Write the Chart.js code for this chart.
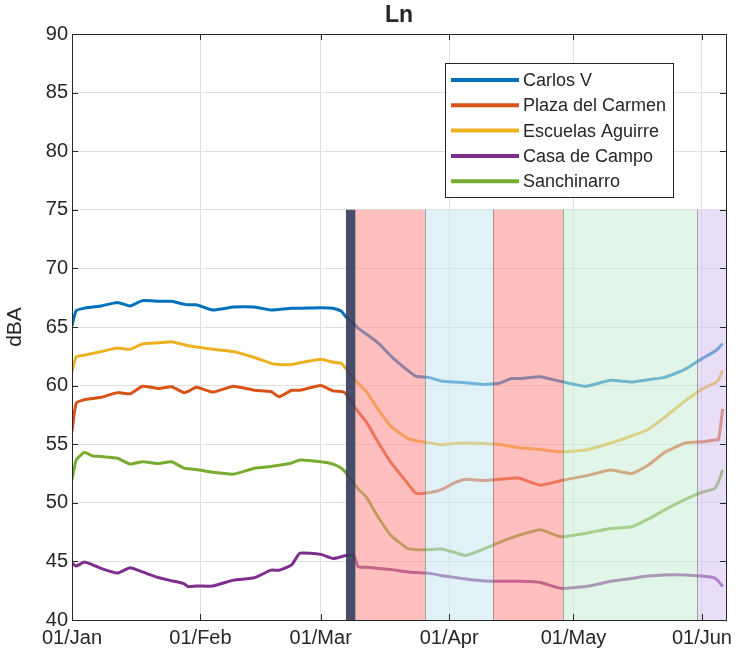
<!DOCTYPE html>
<html>
<head>
<meta charset="utf-8">
<script src="https://cdn.jsdelivr.net/npm/chart.js@4/dist/chart.umd.min.js"></script>
<style>
  html, body { margin: 0; padding: 0; background: #ffffff; }
  #wrap { width: 744px; height: 663px; }
</style>
</head>
<body>
<div id="wrap"><canvas id="c" width="744" height="663"></canvas></div>
<script>
// Days counted from 1 January 2020
const days = [0,1,3,5,7,11,14,17,21,24,27,28,30,34,39,44,48,50,53,55,60,63,65,66,68,69,71,74,77,81,83,86,89,92,95,99,103,106,108,113,118,124,130,135,139,143,148,152,155,156,157];

const carlosV = [65.1,66.4,66.6,66.7,66.8,67.1,66.8,67.25,67.2,67.2,
  66.95,66.9,66.9,66.45,66.7,66.7,66.45,66.5,66.6,66.6,
  66.65,66.6,66.35,65.9,65.3,64.9,64.4,63.6,62.5,61.3,
  60.8,60.7,60.4,60.3,60.25,60.1,60.2,60.6,60.6,60.75,
  60.35,59.95,60.45,60.3,60.5,60.7,61.4,62.3,62.9,63.2,63.6];

const plazaCarmen = [56.1,58.5,58.8,58.9,59.0,59.4,59.3,59.95,59.75,59.9,
  59.4,59.5,59.85,59.45,59.95,59.6,59.5,59.05,59.6,59.6,
  60.0,59.55,59.5,59.35,58.3,57.8,56.9,55.1,53.4,51.65,
  50.8,50.85,51.1,51.65,52.0,51.9,52.0,52.1,52.1,51.5,
  51.9,52.3,52.8,52.5,53.2,54.3,55.1,55.2,55.35,55.4,58.0];

const escuelasAguirre = [61.2,62.45,62.6,62.75,62.9,63.2,63.1,63.55,63.65,63.75,
  63.5,63.4,63.3,63.1,62.9,62.4,61.9,61.8,61.8,61.95,
  62.25,62.0,61.9,61.5,60.6,60.2,59.5,57.9,56.5,55.5,
  55.3,55.15,54.95,55.05,55.1,55.05,55.0,54.8,54.7,54.55,
  54.35,54.5,55.1,55.7,56.25,57.3,58.7,59.7,60.2,60.5,61.3];

const casaCampo = [44.85,44.6,44.95,44.7,44.4,44.0,44.45,44.1,43.6,43.35,
  43.1,42.85,42.9,42.9,43.4,43.6,44.25,44.25,44.7,45.7,
  45.6,45.25,45.4,45.5,45.5,44.55,44.5,44.4,44.3,44.1,
  44.05,44.0,43.8,43.65,43.5,43.35,43.3,43.3,43.3,43.2,
  42.7,42.85,43.3,43.55,43.75,43.85,43.85,43.75,43.6,43.3,42.85];

const sanchinarro = [51.95,53.65,54.3,54.0,53.95,53.8,53.3,53.5,53.35,53.5,
  52.95,52.9,52.85,52.6,52.45,52.95,53.1,53.2,53.4,53.65,
  53.5,53.3,52.95,52.6,51.65,51.2,50.5,48.7,47.2,46.1,
  46.0,46.0,46.05,45.8,45.5,46.0,46.6,47.0,47.25,47.7,
  47.1,47.4,47.8,47.95,48.6,49.4,50.3,50.9,51.2,51.8,52.8];

const seriesNames = ['Carlos V', 'Plaza del Carmen', 'Escuelas Aguirre', 'Casa de Campo', 'Sanchinarro'];

// Month ticks on the date axis
const tickDays = [0, 31, 60, 91, 121, 152];
const tickLabels = ['01/Jan', '01/Feb', '01/Mar', '01/Apr', '01/May', '01/Jun'];
const lastDay = 157.8;

// Restriction periods (day ranges) shaded up to 75 dBA
const periodStart = [66.1, 68.3, 85.2, 101.6, 118.5, 150.8];
const periodEnd   = [68.3, 85.2, 101.6, 118.5, 150.8, lastDay];
const shadeTop = 75;

const lineColors = ['#0072BD', '#D95319', '#EDB120', '#7E2F8E', '#77AC30'];
const periodColors = [
  'rgba(58,62,92,0.92)',
  'rgba(255,140,140,0.56)',
  'rgba(202,230,242,0.56)',
  'rgba(255,140,140,0.56)',
  'rgba(204,238,216,0.56)',
  'rgba(214,198,240,0.56)'
];
const ink = '#262626';
const fontFamily = '"Liberation Sans", Arial, Helvetica, sans-serif';

const valueSets = [carlosV, plazaCarmen, escuelasAguirre, casaCampo, sanchinarro];

const datasets = valueSets.map((vals, i) => ({
  label: seriesNames[i],
  data: days.map((d, k) => ({ x: d, y: vals[k] })),
  borderColor: lineColors[i],
  backgroundColor: lineColors[i],
  borderWidth: 3,
  pointRadius: 0,
  tension: 0.15,
  fill: false
}));

const overlay = {
  id: 'overlay',
  afterDatasetsDraw(chart) {
    const { ctx, chartArea: a, scales: { x, y } } = chart;
    ctx.save();
    const yt = y.getPixelForValue(shadeTop);
    const yb = y.getPixelForValue(40);
    for (let i = 0; i < periodStart.length; i++) {
      const x0 = x.getPixelForValue(periodStart[i]);
      const x1 = x.getPixelForValue(periodEnd[i]);
      ctx.fillStyle = periodColors[i];
      ctx.fillRect(x0, yt, x1 - x0, yb - yt);
      if (i > 0) {
        ctx.strokeStyle = 'rgba(110,110,110,0.45)';
        ctx.lineWidth = 1;
        ctx.beginPath();
        ctx.moveTo(Math.round(x0) + 0.5, yt);
        ctx.lineTo(Math.round(x0) + 0.5, yb);
        ctx.moveTo(Math.round(x1) + 0.5, yt);
        ctx.lineTo(Math.round(x1) + 0.5, yb);
        ctx.stroke();
      }
    }

    // axes box
    ctx.strokeStyle = ink;
    ctx.lineWidth = 1;
    ctx.strokeRect(Math.round(a.left) + 0.5, Math.round(a.top) + 0.5,
                   Math.round(a.right - a.left), Math.round(a.bottom - a.top));

    // inward tick marks
    ctx.beginPath();
    x.ticks.forEach(t => {
      const px = Math.round(x.getPixelForValue(t.value)) + 0.5;
      ctx.moveTo(px, a.bottom); ctx.lineTo(px, a.bottom - 6);
      ctx.moveTo(px, a.top); ctx.lineTo(px, a.top + 6);
    });
    y.ticks.forEach(t => {
      const py = Math.round(y.getPixelForValue(t.value)) + 0.5;
      ctx.moveTo(a.left, py); ctx.lineTo(a.left + 6, py);
      ctx.moveTo(a.right, py); ctx.lineTo(a.right - 6, py);
    });
    ctx.stroke();

    // title
    ctx.fillStyle = ink;
    ctx.font = 'bold 23px ' + fontFamily;
    ctx.textAlign = 'center';
    ctx.textBaseline = 'middle';
    ctx.fillText('Ln', (a.left + a.right) / 2, 16);

    // legend
    const lx = 445, ly = 63, lw = 228, lh = 134;
    ctx.fillStyle = '#ffffff';
    ctx.fillRect(lx, ly, lw, lh);
    ctx.strokeStyle = ink;
    ctx.strokeRect(lx + 0.5, ly + 0.5, lw, lh);
    ctx.font = '18px ' + fontFamily;
    ctx.textAlign = 'left';
    chart.data.datasets.forEach((ds, i) => {
      const ry = ly + 17 + i * 25.3;
      ctx.strokeStyle = ds.borderColor;
      ctx.lineWidth = 4;
      ctx.beginPath();
      ctx.moveTo(lx + 6, ry);
      ctx.lineTo(lx + 74, ry);
      ctx.stroke();
      ctx.fillStyle = ink;
      ctx.fillText(ds.label, lx + 78, ry + 1);
    });
    ctx.restore();
  }
};

Chart.defaults.font.family = fontFamily;
Chart.defaults.color = ink;

new Chart(document.getElementById('c'), {
  type: 'line',
  data: { datasets },
  options: {
    responsive: false,
    animation: false,
    devicePixelRatio: 1,
    layout: { padding: { left: 0, right: 18, top: 34, bottom: 0 } },
    plugins: {
      legend: { display: false },
      title: { display: false },
      tooltip: { enabled: false }
    },
    scales: {
      x: {
        type: 'linear',
        min: 0,
        max: lastDay,
        afterBuildTicks: s => { s.ticks = tickDays.map(v => ({ value: v })); },
        afterFit: s => { s.height = 43; },
        ticks: {
          autoSkip: false,
          maxRotation: 0,
          padding: 6,
          font: { size: 20 },
          color: ink,
          callback: v => tickLabels[tickDays.indexOf(v)]
        },
        grid: { color: '#e0e0e0', drawTicks: false, lineWidth: 1 },
        border: { display: false }
      },
      y: {
        min: 40,
        max: 90,
        afterFit: s => { s.width = 72; },
        ticks: { stepSize: 5, padding: 4, font: { size: 20 }, color: ink },
        grid: { color: '#e0e0e0', drawTicks: false, lineWidth: 1 },
        border: { display: false },
        title: { display: true, text: 'dBA', font: { size: 21 }, color: ink, padding: { top: 3, bottom: 0 } }
      }
    }
  },
  plugins: [overlay]
});
</script>
</body>
</html>
